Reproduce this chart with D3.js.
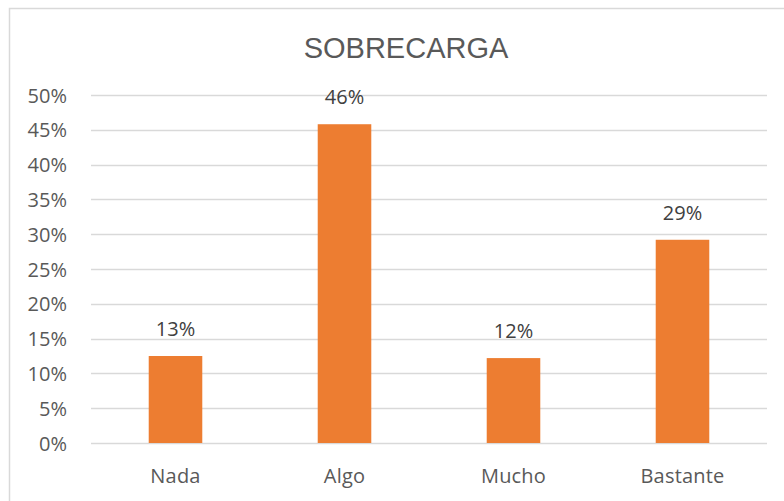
<!DOCTYPE html>
<html>
<head>
<meta charset="utf-8">
<script src="https://cdn.jsdelivr.net/npm/d3@7"></script>
<style>
  html, body { margin: 0; padding: 0; background: #fff; }
  svg { display: block; }
</style>
</head>
<body>
<svg id="chart" width="784" height="501"></svg>
<script>
const categories = ["Nada", "Algo", "Mucho", "Bastante"];
const values = [0.125, 0.458, 0.122, 0.292];
const valueLabels = ["13%", "46%", "12%", "29%"];
const yTicks = [0, 0.05, 0.10, 0.15, 0.20, 0.25, 0.30, 0.35, 0.40, 0.45, 0.50];
const title = "SOBRECARGA";

const svg = d3.select("#chart");
const plot = { left: 91, right: 767, top: 95, bottom: 443 };
const font = "'Open Sans', 'Noto Sans', sans-serif";

// chart border (right/bottom edges fall outside the view)
svg.append("rect")
  .attr("x", 9.5).attr("y", 8.5)
  .attr("width", 820).attr("height", 520)
  .attr("fill", "none").attr("stroke", "#d9d9d9").attr("stroke-width", 1.5);

const x = d3.scaleBand().domain(categories).range([plot.left, plot.right]).padding(0);
const y = d3.scaleLinear().domain([0, 0.5]).range([plot.bottom, plot.top]);

// gridlines
svg.append("g").selectAll("line").data(yTicks).join("line")
  .attr("x1", plot.left).attr("x2", plot.right)
  .attr("y1", d => Math.round(y(d)) + 0.5).attr("y2", d => Math.round(y(d)) + 0.5)
  .attr("stroke", "#d9d9d9").attr("stroke-width", 1.5);

// y axis labels
const yAxis = d3.axisLeft(y).tickValues(yTicks).tickFormat(d3.format(".0%")).tickSize(0).tickPadding(0);
const gy = svg.append("g").attr("transform", `translate(${67},0)`).call(yAxis);
gy.select(".domain").remove();
gy.selectAll("text")
  .attr("fill", "#595959").attr("font-size", 20).attr("font-family", font)
  .attr("dy", "0.35em");

// bars
const barFrac = 0.317;
svg.append("g").selectAll("rect").data(values).join("rect")
  .attr("x", (d, i) => x(categories[i]) + x.bandwidth() * (1 - barFrac) / 2)
  .attr("width", x.bandwidth() * barFrac)
  .attr("y", d => y(d))
  .attr("height", d => y(0) - y(d))
  .attr("fill", "#ED7D31");

// value labels
svg.append("g").selectAll("text").data(values).join("text")
  .attr("x", (d, i) => x(categories[i]) + x.bandwidth() / 2)
  .attr("y", d => y(d) - 20)
  .attr("text-anchor", "middle")
  .attr("fill", "#404040").attr("font-size", 20).attr("font-family", font)
  .text((d, i) => valueLabels[i]);

// x axis labels
const xAxis = d3.axisBottom(x).tickSize(0).tickPadding(0);
const gx = svg.append("g").attr("transform", `translate(0,${plot.bottom})`).call(xAxis);
gx.select(".domain").remove();
gx.selectAll("text")
  .attr("y", 40).attr("dy", "0")
  .attr("fill", "#595959").attr("font-size", 20).attr("font-family", font)
  .attr("letter-spacing", "0.2px");

// title
svg.append("text")
  .attr("x", 406).attr("y", 58)
  .attr("text-anchor", "middle")
  .attr("fill", "#595959").attr("font-size", 29).attr("font-family", "'Liberation Sans', Arial, sans-serif")
  .text(title);
</script>
</body>
</html>
